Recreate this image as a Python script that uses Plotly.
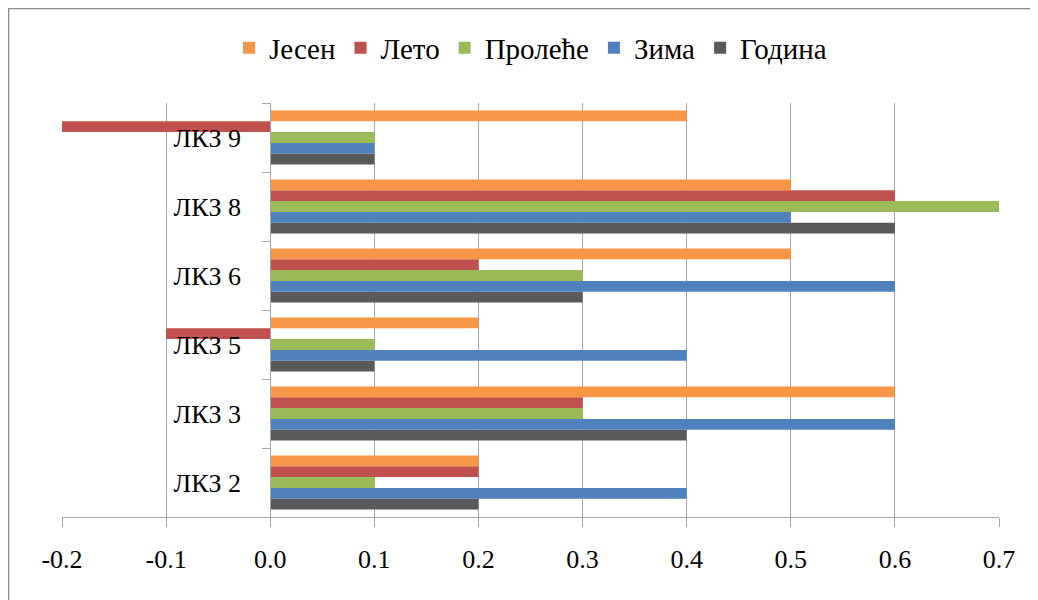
import plotly.graph_objects as go

categories = ["ЛКЗ 2", "ЛКЗ 3", "ЛКЗ 5", "ЛКЗ 6", "ЛКЗ 8", "ЛКЗ 9"]
jesen = [0.2, 0.6, 0.2, 0.5, 0.5, 0.4]
leto = [0.2, 0.3, -0.1, 0.2, 0.6, -0.2]
prolece = [0.1, 0.3, 0.1, 0.3, 0.7, 0.1]
zima = [0.4, 0.6, 0.4, 0.6, 0.5, 0.1]
godina = [0.2, 0.4, 0.1, 0.3, 0.6, 0.1]
x_ticks = [-0.2, -0.1, 0.0, 0.1, 0.2, 0.3, 0.4, 0.5, 0.6, 0.7]

series = [
    ("Година", godina, "#595959"),
    ("Зима", zima, "#4F81BD"),
    ("Пролеће", prolece, "#9BBB59"),
    ("Лето", leto, "#C0504D"),
    ("Јесен", jesen, "#F79646"),
]

FONT = "Liberation Serif"
GRID = "#a6a6a6"

W, H = 1030, 592
L, T, PW, PH = 54, 95, 937, 414

fig = go.Figure()
for name, vals, color in series:
    fig.add_trace(go.Bar(
        y=categories, x=vals, name=name, orientation="h",
        marker=dict(color=color, line=dict(width=0)),
    ))

fig.update_layout(
    width=W, height=H,
    barmode="group", bargap=0.22, bargroupgap=0,
    paper_bgcolor="white", plot_bgcolor="white",
    margin=dict(l=L, r=W - L - PW, t=T, b=H - T - PH, pad=0),
    font=dict(family=FONT, size=26, color="black"),
    legend=dict(
        orientation="h", traceorder="reversed",
        x=0.5, xanchor="center", y=1 + (T - 40) / PH, yanchor="middle",
        font=dict(family=FONT, size=29, color="black"),
        itemwidth=30, bgcolor="rgba(0,0,0,0)",
    ),
    xaxis=dict(
        range=[-0.2, 0.7], tickvals=x_ticks,
        ticktext=[f"{v:.1f}" for v in x_ticks],
        showgrid=True, gridcolor=GRID, gridwidth=1,
        zeroline=False, showline=True, linecolor=GRID, linewidth=1,
        ticks="outside", ticklen=9, tickcolor=GRID,
        ticklabelstandoff=10, domain=[0, 1],
        tickfont=dict(family=FONT, size=26),
    ),
    yaxis=dict(
        type="category", categoryorder="array", categoryarray=categories,
        anchor="free", position=0.2 / 0.9,
        showgrid=False, zeroline=False,
        showline=True, linecolor=GRID, linewidth=1,
        ticks="outside", tickson="boundaries", ticklen=8, tickcolor=GRID,
        ticklabelstandoff=24,
        tickfont=dict(family=FONT, size=26),
    ),
    shapes=[
        dict(type="line", xref="paper", yref="paper",
             x0=-L / PW, x1=1.1, y0=1 + T / PH, y1=1 + T / PH,
             line=dict(color="#888888", width=2.5)),
        dict(type="line", xref="paper", yref="paper",
             x0=-L / PW, x1=-L / PW, y0=1 + T / PH, y1=-0.5,
             line=dict(color="#888888", width=2.5)),
    ],
)

fig.write_html("out.html")
